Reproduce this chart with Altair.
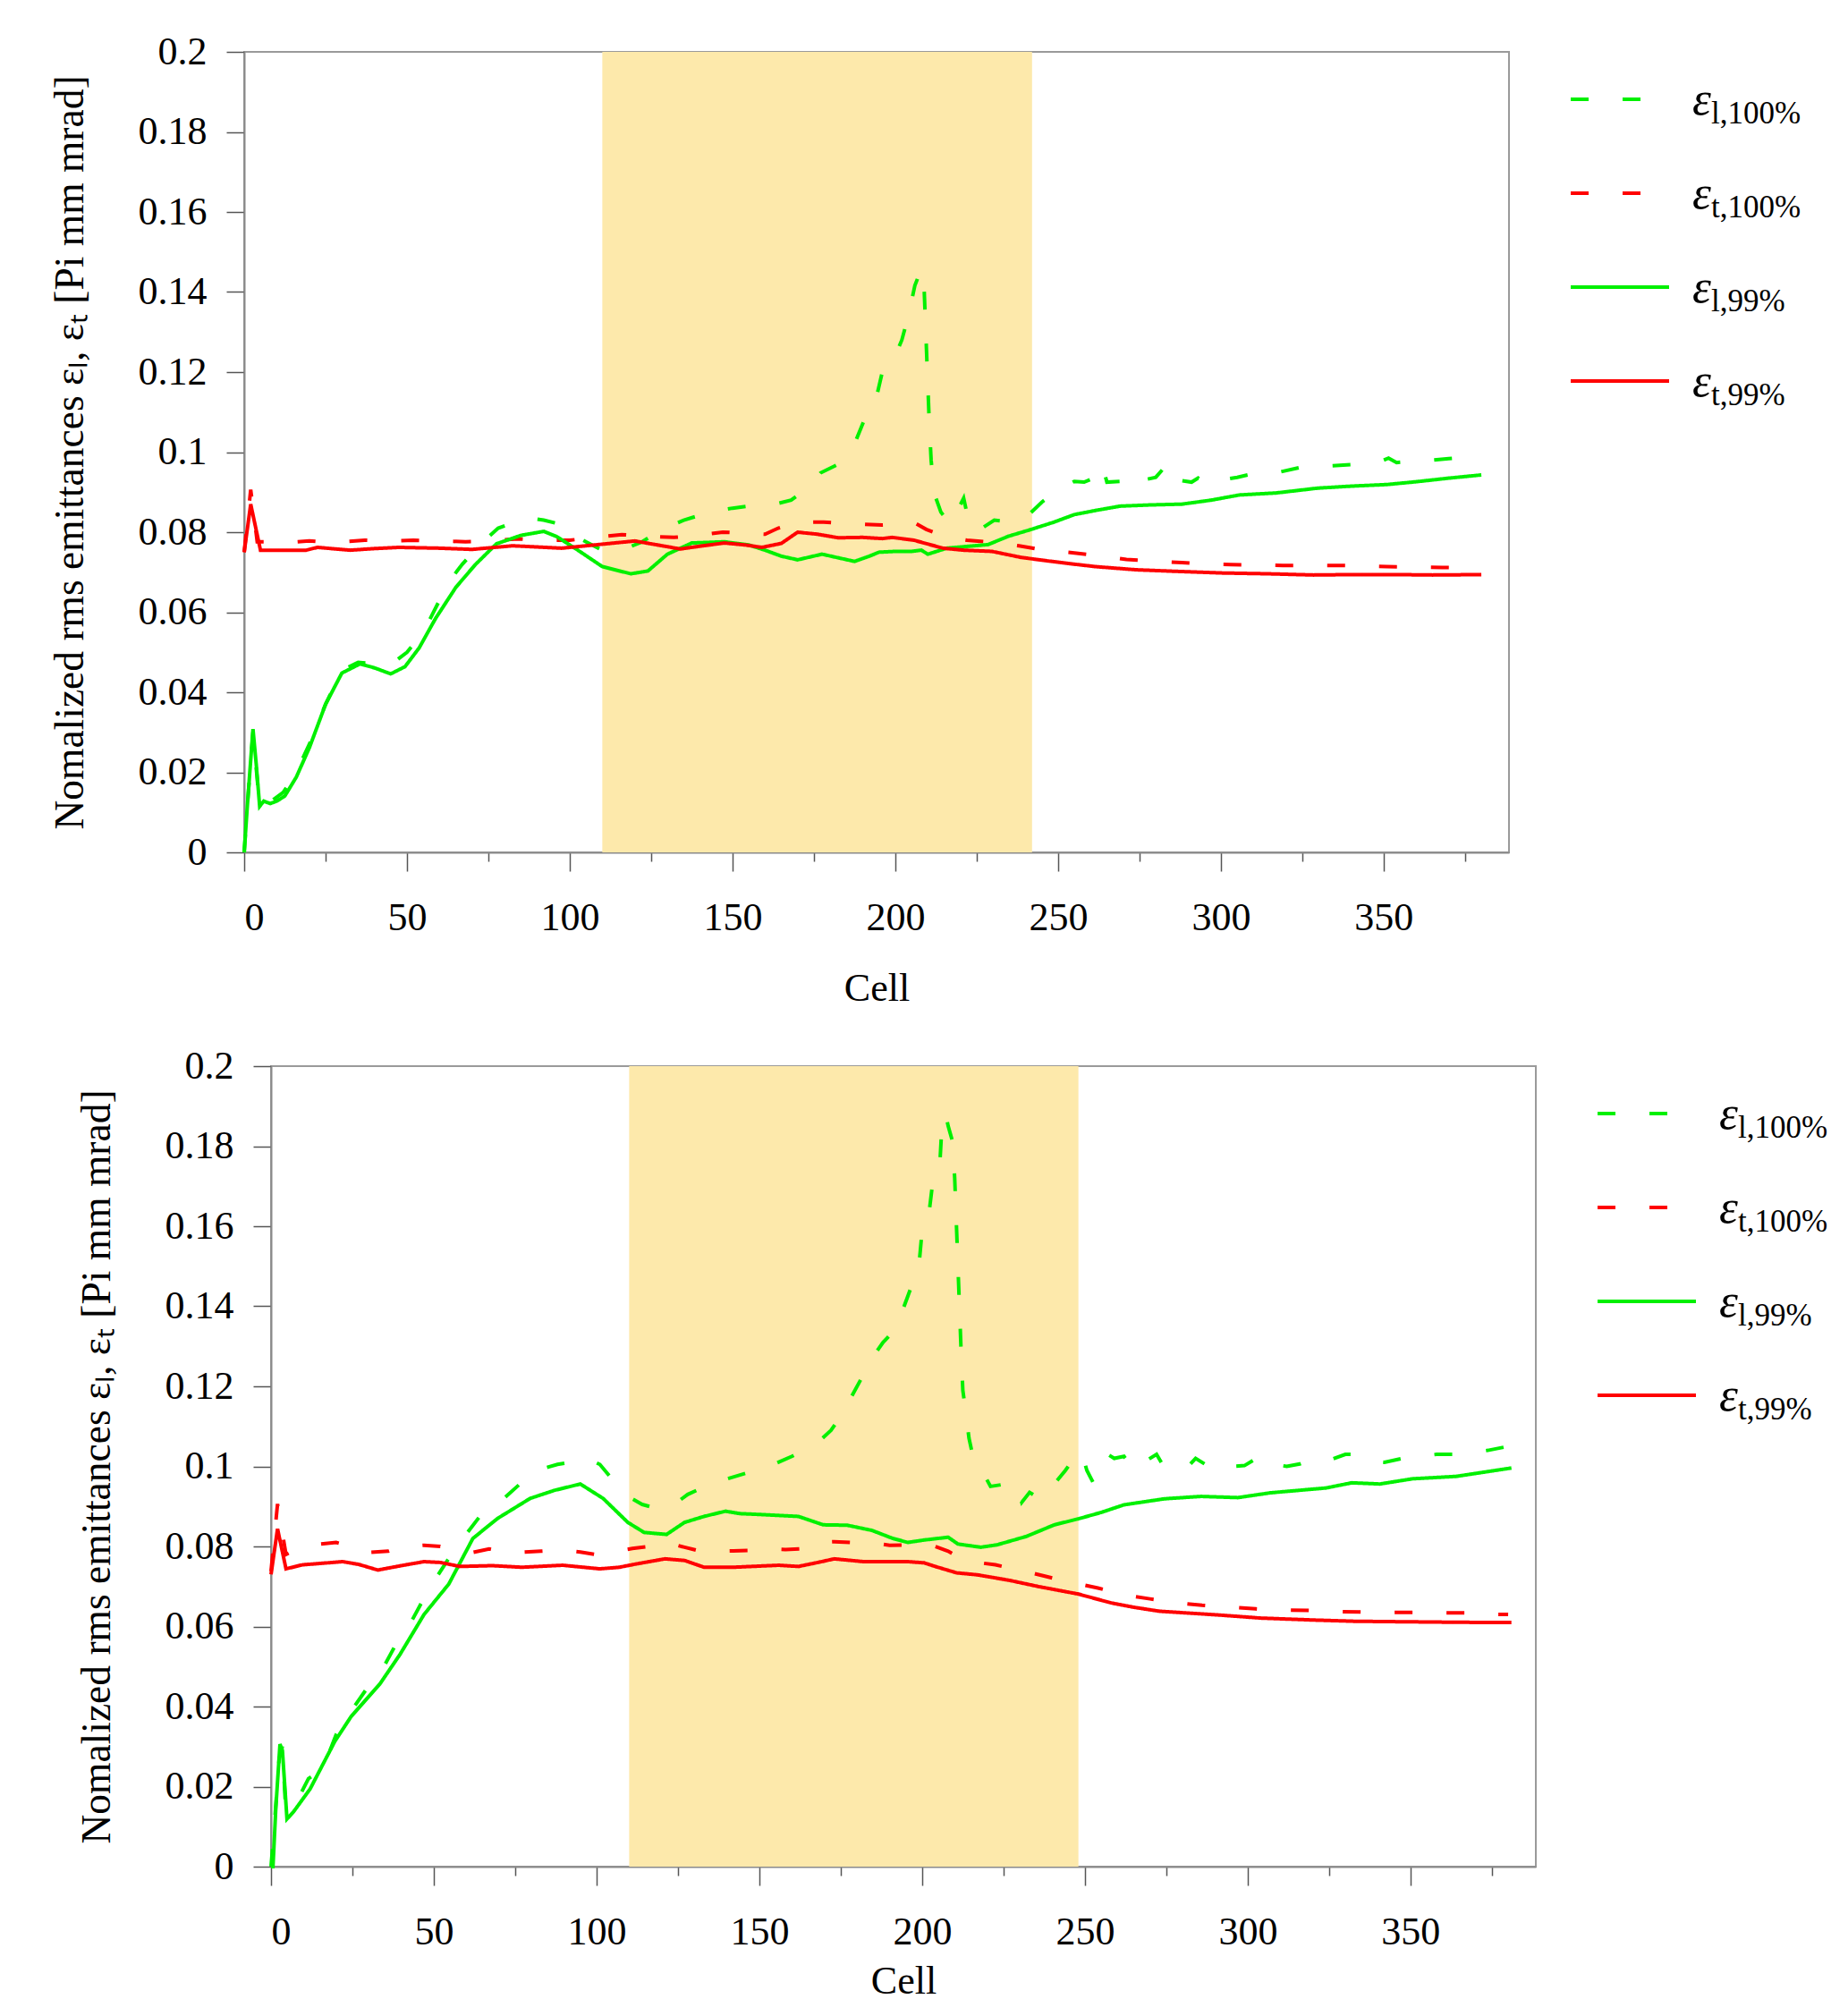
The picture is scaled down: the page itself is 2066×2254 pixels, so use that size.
import altair as alt
import pandas as pd

FONT = "Liberation Serif"
GREEN = "#00F000"
RED = "#FF0000"
SHADE = "#FDE9AB"

SERIES = ["l100", "t100", "l99", "t99"]
SUBS = ["l,100%", "t,100%", "l,99%", "t,99%"]
ROWS = [0, 1, 2, 3]
COLORS = [GREEN, RED, GREEN, RED]
DASHES = [[20, 38], [20, 38], [1, 0], [1, 0]]

X_TICKS = list(range(0, 376, 25))
Y_TICKS = [0, 0.02, 0.04, 0.06, 0.08, 0.1, 0.12, 0.14, 0.16, 0.18, 0.2]
Y_TITLE = "Nomalized rms emittances εₗ, εₜ [Pi mm mrad]"
X_TITLE = "Cell"

TOP_SHADE = [110, 242]
BOT_SHADE = [110, 248]

# ---------------- top panel ----------------
TOP_L100 = [(0, 0.0), (1, 0.012), (2.7, 0.03), (4.7, 0.012), (8, 0.0126), (12, 0.015), (16, 0.02),
            (20, 0.027), (25, 0.037), (30, 0.0455), (35, 0.0475), (41, 0.047), (46, 0.0475), (50, 0.05),
            (55, 0.055), (61, 0.0646), (64, 0.0688), (67, 0.072), (72.5, 0.077), (78, 0.081), (85, 0.083),
            (88, 0.0835), (92, 0.083), (98, 0.0818), (104, 0.078), (110, 0.0755), (115, 0.0752),
            (122, 0.0775), (128, 0.0805), (135, 0.083), (143, 0.085), (150, 0.086), (159, 0.087),
            (164, 0.0872), (168, 0.088), (172.5, 0.0906), (177, 0.0948), (182.5, 0.097), (187, 0.1011),
            (190.6, 0.1083), (194, 0.113), (196, 0.12), (199.4, 0.123), (202, 0.128), (204, 0.134),
            (206, 0.1416), (208, 0.1458), (208.8, 0.142), (209.6, 0.125), (210.4, 0.108), (211, 0.098),
            (212, 0.0896), (214, 0.085), (217, 0.082), (221, 0.0885), (223, 0.081), (226.6, 0.081),
            (230.4, 0.083), (236, 0.0825), (240.5, 0.084), (245, 0.0875), (250.6, 0.091), (255, 0.0927),
            (258, 0.0925), (261, 0.0935), (263.5, 0.097), (265, 0.0925), (270, 0.0927), (274, 0.0948),
            (276, 0.093), (280, 0.0937), (284, 0.0974), (287, 0.093), (291, 0.0925), (293, 0.0935),
            (295, 0.092), (300, 0.093), (305, 0.0937), (311, 0.0948), (318, 0.095), (325, 0.0963),
            (332, 0.0965), (340, 0.0969), (347, 0.0972), (350, 0.098), (351.5, 0.0985), (354, 0.0974),
            (360, 0.0978), (365, 0.098), (370, 0.0984), (375, 0.0987), (380, 0.0991)]

TOP_L99 = [(0, 0.0), (1, 0.012), (2.7, 0.0308), (3.7, 0.022), (4.75, 0.0115), (6, 0.0128), (8, 0.0122),
           (10, 0.0128), (12.5, 0.0141), (16, 0.0188), (20, 0.0261), (25, 0.037), (30, 0.0448),
           (35.6, 0.0471), (40, 0.0461), (45, 0.0446), (49.4, 0.0464), (53.75, 0.0511), (58.75, 0.0584),
           (65, 0.0662), (71, 0.0719), (77.5, 0.0771), (85, 0.0792), (92, 0.0802), (96, 0.0789),
           (102.5, 0.0755), (110, 0.0714), (118.75, 0.0696), (124, 0.0703), (130, 0.0745),
           (137.5, 0.0773), (147.5, 0.0776), (155, 0.0768), (160, 0.0755), (165, 0.074), (170, 0.0731),
           (177.5, 0.0745), (183, 0.0735), (187.5, 0.0727), (192, 0.074), (195, 0.075), (200, 0.0752),
           (205, 0.0752), (208, 0.0755), (210, 0.0745), (215.8, 0.076), (228.5, 0.0769), (234.8, 0.079),
           (241, 0.0805), (248.7, 0.0825), (255, 0.0844), (262, 0.0855), (269, 0.0865), (278, 0.0868),
           (288, 0.087), (297, 0.088), (305.7, 0.0893), (317, 0.0898), (329.7, 0.091), (340, 0.0915),
           (351, 0.0919), (360, 0.0926), (370, 0.0935), (380, 0.0943)]

TOP_T100 = [(0, 0.075), (2, 0.0906), (4, 0.0776), (7, 0.0776), (15, 0.0775), (20, 0.0778), (25, 0.0775),
            (30, 0.0776), (37, 0.078), (45, 0.0778), (52, 0.078), (60, 0.0778), (68, 0.0776),
            (75, 0.0778), (84, 0.0783), (92, 0.078), (100, 0.078), (108, 0.0787), (116, 0.0794),
            (123, 0.079), (132, 0.0787), (140, 0.0793), (147, 0.08), (155, 0.0797), (160, 0.0795),
            (164, 0.081), (170, 0.0825), (178, 0.0825), (185, 0.0822), (190, 0.082), (196, 0.0818),
            (202, 0.082), (206, 0.0823), (209.5, 0.0807), (215, 0.079), (222, 0.078), (229, 0.0775),
            (238, 0.0766), (245, 0.0756), (255, 0.0748), (264, 0.074), (271, 0.0732), (280, 0.0727),
            (288, 0.0724), (296, 0.072), (303, 0.0719), (319, 0.0717), (336, 0.0717), (351, 0.0714),
            (368, 0.0712), (380, 0.0711)]

TOP_T99 = [(0, 0.075), (2, 0.087), (5, 0.0755), (10, 0.0755), (19, 0.0755), (22.5, 0.0762),
           (32.5, 0.0755), (40, 0.0759), (47.5, 0.0762), (60, 0.076), (70, 0.0757), (82.5, 0.0766),
           (97.5, 0.076), (110, 0.077), (120, 0.0778), (127, 0.0768), (134, 0.0758), (140, 0.0765),
           (147.5, 0.0773), (154, 0.0768), (159, 0.0762), (165, 0.0772), (170, 0.08), (176, 0.0795),
           (182.5, 0.0786), (190, 0.0787), (196, 0.0784), (199, 0.0787), (205.7, 0.078), (214.6, 0.076),
           (221, 0.0755), (229.7, 0.0752), (238.6, 0.0737), (247, 0.0728), (255, 0.072), (261.4, 0.0714),
           (274, 0.0706), (286.7, 0.0702), (300.6, 0.0698), (314.6, 0.0696), (328.5, 0.0693),
           (340, 0.0694), (353.8, 0.0694), (365, 0.0693), (380, 0.0694)]

# ---------------- bottom panel ----------------
BOT_L100 = [(0, 0.0), (1, 0.01), (2.5, 0.027), (3.5, 0.03), (4.5, 0.0144), (6, 0.015), (9, 0.018),
            (11.5, 0.022), (16, 0.0245), (20, 0.033), (23, 0.037), (29, 0.044), (33, 0.0475), (38, 0.055),
            (41.5, 0.0588), (46, 0.0656), (49, 0.07), (54.6, 0.077), (58, 0.081), (64.6, 0.088),
            (69.6, 0.0906), (77, 0.096), (81.5, 0.099), (88, 0.1005), (92, 0.101), (97, 0.102),
            (101, 0.1005), (106, 0.0956), (109.6, 0.0925), (114, 0.0905), (119, 0.0894), (124, 0.0906),
            (128, 0.093), (133.4, 0.095), (139, 0.0966), (148, 0.0988), (154.6, 0.1006), (160, 0.1025),
            (163.4, 0.104), (168, 0.106), (172, 0.109), (175, 0.1125), (178, 0.117), (182.7, 0.124),
            (185, 0.1275), (188, 0.131), (191.5, 0.134), (194, 0.139), (197, 0.1456), (199, 0.15),
            (200, 0.159), (202, 0.1625), (203.4, 0.172), (205.4, 0.175), (206, 0.184), (207.2, 0.188),
            (208, 0.185), (209.4, 0.181), (210, 0.172), (211, 0.15), (212, 0.128), (212.5, 0.119),
            (213, 0.116), (214.4, 0.107), (215.6, 0.1025), (219, 0.098), (221, 0.095), (225, 0.0955),
            (229, 0.0956), (230.6, 0.091), (233, 0.0935), (235, 0.0925), (236.5, 0.0945), (239, 0.094),
            (244, 0.099), (247.5, 0.103), (249, 0.1035), (250.6, 0.099), (252.5, 0.096), (255, 0.1),
            (257, 0.103), (259, 0.102), (262, 0.1025), (263.75, 0.1006), (265.6, 0.099), (268, 0.101),
            (272, 0.103), (273.75, 0.1006), (277, 0.1), (280.6, 0.099), (284, 0.102), (287, 0.1005),
            (290.6, 0.099), (295, 0.1), (299, 0.1002), (303.75, 0.1025), (307.5, 0.1006), (312, 0.1),
            (316, 0.1006), (320.6, 0.102), (325, 0.1015), (330, 0.103), (333, 0.103), (337, 0.1015),
            (342, 0.101), (347.5, 0.102), (353, 0.1025), (358, 0.103), (364, 0.103), (369, 0.1035),
            (373.75, 0.104), (380, 0.105)]

BOT_L99 = [(0, 0.0), (0.6, 0.0), (1.5, 0.015), (2.75, 0.0306), (3.5, 0.029), (4.9, 0.0119), (7, 0.0138),
           (12, 0.0194), (19.6, 0.0313), (24.6, 0.0375), (33.4, 0.0456), (39.6, 0.053), (47, 0.063),
           (54.6, 0.0706), (62, 0.082), (69.6, 0.087), (79.6, 0.092), (87, 0.094), (95, 0.0956),
           (102, 0.092), (109.6, 0.086), (114.6, 0.0835), (121.5, 0.083), (127, 0.086), (133, 0.0875),
           (139.6, 0.0888), (144, 0.0882), (149.6, 0.088), (162, 0.0875), (169.6, 0.0854), (177, 0.0853),
           (184.6, 0.084), (191, 0.082), (195.6, 0.081), (200.6, 0.0816), (208, 0.0823), (211, 0.0806),
           (218, 0.0798), (223, 0.0804), (232, 0.0825), (240.6, 0.0854), (248, 0.0869), (255, 0.0885),
           (262, 0.0904), (274.4, 0.0919), (285.6, 0.0925), (297, 0.0922), (307, 0.0934), (324, 0.0946),
           (332, 0.0959), (340.6, 0.0956), (350.6, 0.0969), (364, 0.0975), (381, 0.0996)]

BOT_T100 = [(0, 0.0738), (2, 0.0906), (4.6, 0.078), (8, 0.0794), (14, 0.0805), (20, 0.081), (24.6, 0.08),
            (30, 0.0785), (36, 0.0788), (41, 0.08), (47, 0.0803), (52, 0.08), (57, 0.0788), (62, 0.0785),
            (67, 0.0794), (73, 0.0784), (78, 0.0786), (83, 0.0788), (89.6, 0.0791), (95, 0.0786),
            (99.6, 0.078), (106, 0.0788), (111, 0.0795), (116, 0.08), (121.5, 0.081), (127, 0.0798),
            (132, 0.0788), (137, 0.0788), (142, 0.0789), (147, 0.079), (153, 0.0794), (158, 0.0792),
            (163, 0.0794), (168, 0.081), (173, 0.0812), (178, 0.081), (184, 0.081), (190, 0.0803),
            (196, 0.0804), (199, 0.0804), (204, 0.08), (208, 0.0788), (212, 0.0769), (217, 0.076),
            (222.5, 0.0754), (228, 0.0744), (233, 0.0735), (238, 0.0725), (244, 0.0713), (249, 0.0705),
            (254, 0.0696), (260, 0.0684), (265, 0.0675), (270, 0.0669), (275.6, 0.0663), (281, 0.0657),
            (286, 0.0653), (292, 0.065), (302.5, 0.0644), (308, 0.0641), (318.75, 0.064), (324, 0.0638),
            (335, 0.0636), (340.6, 0.0635), (351, 0.0635), (357, 0.0634), (367.5, 0.0634), (373, 0.0631),
            (380, 0.063)]

BOT_T99 = [(0, 0.073), (2, 0.0844), (4.6, 0.0744), (9.6, 0.0754), (22, 0.0762), (27, 0.0755),
           (32.8, 0.0741), (40, 0.0752), (47, 0.0762), (52, 0.076), (58, 0.075), (68, 0.0752),
           (77, 0.0748), (89.6, 0.0753), (101, 0.0744), (107, 0.0748), (112, 0.0756), (121, 0.0769),
           (127, 0.0765), (133, 0.0748), (142, 0.0748), (156, 0.0753), (162, 0.075), (168, 0.076),
           (173, 0.0769), (182, 0.0762), (195.6, 0.0762), (200.6, 0.0759), (204, 0.075), (210.6, 0.0734),
           (217, 0.0729), (227, 0.0715), (235.6, 0.07), (248, 0.0681), (258, 0.0659), (265, 0.0648),
           (273, 0.0638), (290.6, 0.0629), (304, 0.0621), (320.6, 0.0616), (333, 0.0613), (358, 0.0611),
           (373, 0.061), (381, 0.061)]

PLOT_W = 1414
PLOT_H = 895
LEG_W = 326
X_MAX = 388.5


def long_frame(series_lists):
    rows = []
    for name, pts in zip(SERIES, series_lists):
        for c, v in pts:
            rows.append({"cell": c, "value": v, "series": name})
    return pd.DataFrame(rows)


color_scale = alt.Scale(domain=SERIES, range=COLORS)
dash_scale = alt.Scale(domain=SERIES, range=DASHES)
x_scale = alt.Scale(domain=[0, X_MAX], nice=False, zero=False)
y_scale = alt.Scale(domain=[0, 0.2], nice=False)


def make_x_axis(title_pad):
    return alt.Axis(
        values=X_TICKS,
        labelExpr="datum.value % 50 == 0 ? datum.label : ''",
        tickSize={"condition": {"test": "datum.value % 50 == 0", "value": 21}, "value": 10},
        labelOverlap=False, grid=False,
        labelFont=FONT, labelFontSize=44, labelColor="black", labelPadding=30,
        titleFont=FONT, titleFontSize=44, titleFontWeight="normal", titleColor="black",
        titlePadding=title_pad,
        domainColor="#8a8a8a", domainWidth=2, tickColor="#555555", tickWidth=1.5,
    )


y_axis = alt.Axis(
    values=Y_TICKS, format="~g", tickSize=20, grid=False, labelOverlap=False,
    labelFont=FONT, labelFontSize=44, labelColor="black", labelPadding=22,
    titleFont=FONT, titleFontSize=45.5, titleFontWeight="normal", titleColor="black", titlePadding=52,
    domainColor="#8a8a8a", domainWidth=2, tickColor="#555555", tickWidth=1.5,
)


def plot_panel(series_lists, shade, title_pad):
    df = long_frame(series_lists)
    x_axis = make_x_axis(title_pad)
    band = alt.Chart(pd.DataFrame({"start": [shade[0]], "end": [shade[1]]})).mark_rect(
        color=SHADE
    ).encode(
        x=alt.X("start:Q", scale=x_scale, axis=x_axis, title=X_TITLE),
        x2="end:Q",
        y=alt.datum(0),
        y2=alt.datum(0.2),
    )
    lines = alt.Chart(df).mark_line(strokeWidth=4).encode(
        x=alt.X("cell:Q", scale=x_scale, axis=x_axis, title=X_TITLE),
        y=alt.Y("value:Q", scale=y_scale, axis=y_axis, title=Y_TITLE),
        color=alt.Color("series:N", scale=color_scale, legend=None),
        strokeDash=alt.StrokeDash("series:N", scale=dash_scale, legend=None),
    )
    return alt.layer(band, lines).properties(width=PLOT_W, height=PLOT_H)


def legend_panel():
    leg = pd.DataFrame({"series": SERIES, "sub": SUBS, "row": ROWS})
    yl = alt.Y("row:Q", scale=alt.Scale(domain=[0, 3], range=[53, 368]), axis=None)
    rules = alt.Chart(leg).mark_rule(strokeWidth=4).encode(
        x=alt.value(67), x2=alt.value(177), y=yl,
        color=alt.Color("series:N", scale=color_scale, legend=None),
        strokeDash=alt.StrokeDash("series:N", scale=dash_scale, legend=None),
    )
    eps = alt.Chart(leg).mark_text(
        text="ε", font=FONT, fontStyle="italic", fontSize=53, align="left",
        baseline="alphabetic", dy=17, color="black"
    ).encode(x=alt.value(203), y=yl)
    subs = alt.Chart(leg).mark_text(
        font=FONT, fontSize=35, align="left", baseline="alphabetic", dy=27, color="black"
    ).encode(x=alt.value(224), y=yl, text="sub:N")
    return alt.layer(rules, eps, subs).properties(
        width=LEG_W, height=PLOT_H, view=alt.ViewBackground(stroke="transparent")
    )


def spacer(w):
    return alt.Chart(pd.DataFrame({"a": [0]})).mark_point(opacity=0, size=1).encode(
        x=alt.value(0.5), y=alt.value(5)
    ).properties(width=w, height=10, view=alt.ViewBackground(stroke="transparent"))


top_row = alt.hconcat(spacer(1), plot_panel([TOP_L100, TOP_T100, TOP_L99, TOP_T99], TOP_SHADE, 35),
                      legend_panel(), spacing=0)
bot_row = alt.hconcat(spacer(31), plot_panel([BOT_L100, BOT_T100, BOT_L99, BOT_T99], BOT_SHADE, 11),
                      legend_panel(), spacing=0)

chart = alt.vconcat(top_row, bot_row, spacing=41).properties(
    padding={"left": 44, "top": 27, "right": 0, "bottom": 0},
    background="white",
).configure_view(stroke="#9a9a9a", strokeWidth=2)

chart.save("out.html", embed_options={"renderer": "svg", "actions": False})
